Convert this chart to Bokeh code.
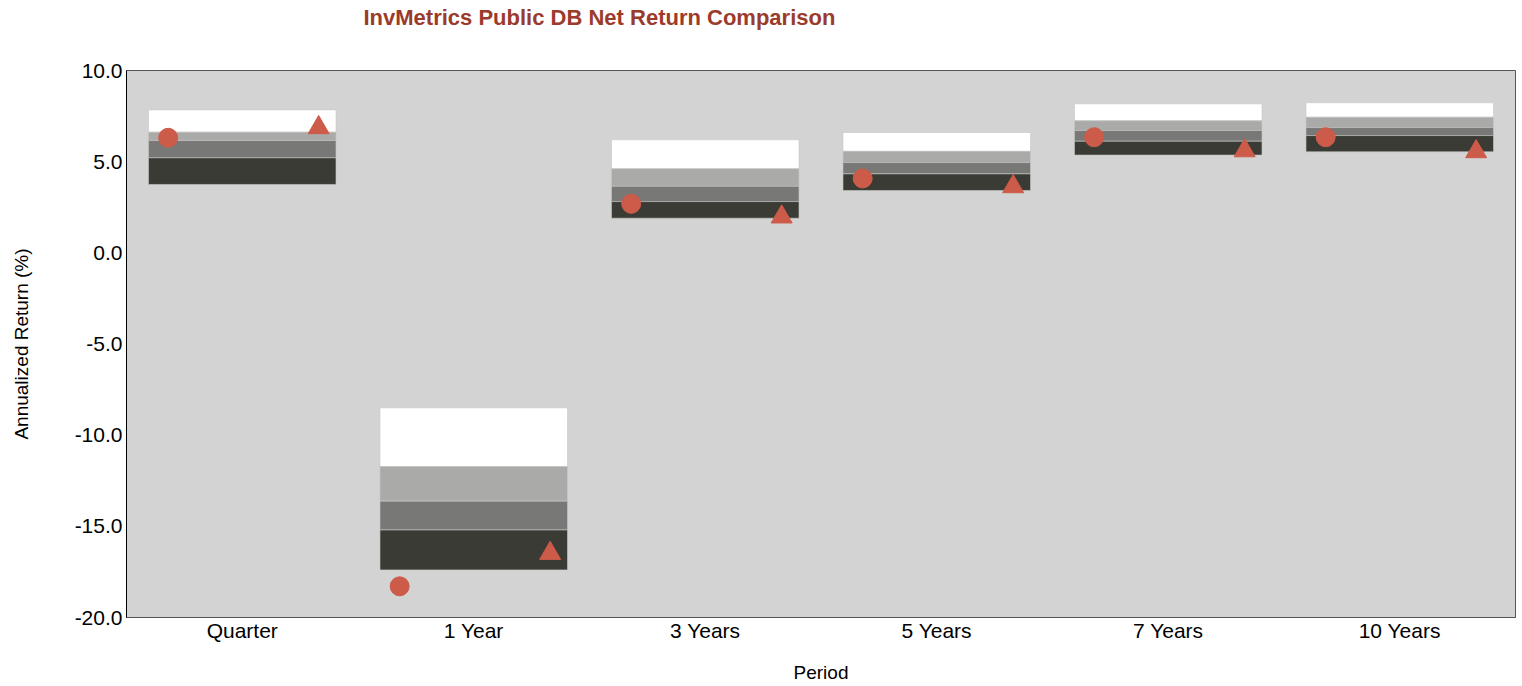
from bokeh.plotting import figure
from bokeh.models import FactorRange, NumeralTickFormatter, FixedTicker, ColumnDataSource, Title
from bokeh.transform import dodge
from bokeh.embed import file_html
from bokeh.resources import INLINE

periods = ["Quarter", "1 Year", "3 Years", "5 Years", "7 Years", "10 Years"]
pct5 = [7.84, -8.50, 6.20, 6.60, 8.17, 8.23]
pct25 = [6.62, -11.72, 4.61, 5.57, 7.24, 7.44]
median = [6.16, -13.62, 3.65, 4.95, 6.71, 6.87]
pct75 = [5.21, -15.20, 2.81, 4.33, 6.12, 6.43]
pct95 = [3.75, -17.39, 1.90, 3.42, 5.36, 5.54]
circle_vals = [6.31, -18.29, 2.69, 4.08, 6.34, 6.34]
triangle_vals = [6.87, -16.48, 1.97, 3.63, 5.60, 5.55]
y_ticks = [-20, -15, -10, -5, 0, 5, 10]
title_text = "InvMetrics Public DB Net Return Comparison"

src = ColumnDataSource(dict(period=periods, p5=pct5, p25=pct25, p50=median,
                            p75=pct75, p95=pct95, circ=circle_vals, tri=triangle_vals))

FONT = "Liberation Sans"

p = figure(x_range=FactorRange(*periods, range_padding=0), y_range=(-20, 10),
           frame_width=1389, frame_height=547,
           min_border_left=126, min_border_top=70, min_border_right=5, min_border_bottom=64,
           output_backend="svg", toolbar_location=None,
           background_fill_color="#D3D3D3", border_fill_color="white")

p.title.text = title_text
p.title.align = "left"
p.title.offset = 237
p.title.text_font = FONT
p.title.text_font_size = "22px"
p.title.text_font_style = "bold"
p.title.text_color = "#9B3B2B"
p.title.standoff = 0

spacer = Title(text=" ", text_font_size="10px", standoff=28)
p.add_layout(spacer, "above")

bands = [("p25", "p5", "#FFFFFF"), ("p50", "p25", "#AAAAA8"),
         ("p75", "p50", "#787876"), ("p95", "p75", "#3B3B35")]
for b, t, c in bands:
    p.vbar(x="period", bottom=b, top=t, width=0.81, source=src,
           fill_color=c, line_color="#C8C8C8", line_width=1, line_alpha=0.6)

p.scatter(x=dodge("period", -0.32, range=p.x_range), y="circ", source=src,
          marker="circle", size=19, fill_color="#CD5B4A", line_color="#CD5B4A")
p.scatter(x=dodge("period", 0.33, range=p.x_range), y="tri", source=src,
          marker="triangle", size=21, fill_color="#CD5B4A", line_color="#CD5B4A")

p.xgrid.visible = False
p.ygrid.visible = False
p.outline_line_color = "#555555"
p.outline_line_width = 1

ya = p.yaxis[0]
ya.ticker = FixedTicker(ticks=y_ticks)
ya.formatter = NumeralTickFormatter(format="0.0")
ya.major_tick_line_color = None
ya.minor_tick_line_color = None
ya.axis_line_color = "black"
ya.major_label_text_font = FONT
ya.major_label_text_font_size = "21px"
ya.major_label_text_color = "black"
ya.major_label_standoff = -2
ya.axis_label = "Annualized Return (%)"
ya.axis_label_text_font = FONT
ya.axis_label_text_font_size = "19px"
ya.axis_label_text_font_style = "normal"
ya.axis_label_text_color = "black"
ya.axis_label_standoff = 40

xa = p.xaxis[0]
xa.major_tick_line_color = None
xa.minor_tick_line_color = None
xa.axis_line_color = "#555555"
xa.major_label_text_font = FONT
xa.major_label_text_font_size = "21px"
xa.major_label_text_color = "black"
xa.major_label_standoff = -5
xa.axis_label = "Period"
xa.axis_label_text_font = FONT
xa.axis_label_text_font_size = "19px"
xa.axis_label_text_font_style = "normal"
xa.axis_label_text_color = "black"
xa.axis_label_standoff = 17

open("out.html", "w").write(file_html(p, INLINE))
